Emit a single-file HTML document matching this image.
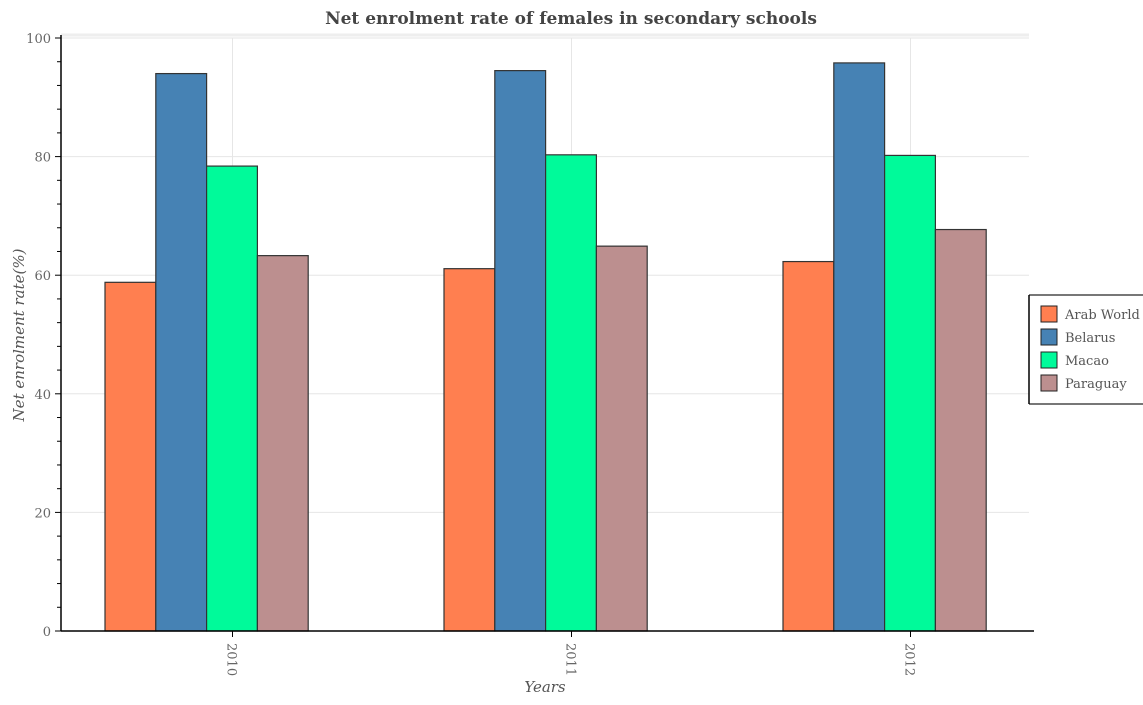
<!DOCTYPE html>
<html><head><meta charset="utf-8"><style>
body{margin:0;background:#fff}
svg{font-family:"DejaVu Serif","Liberation Serif",serif}
</style></head><body>
<svg width="1143" height="700">
<g id="grid"></g><g id="bars"></g><g id="axes"></g>
<text x="571" y="24" text-anchor="middle" font-size="17" font-weight="bold" fill="#444">Net enrolment rate of females in secondary schools</text>
<text transform="translate(24,335) rotate(-90)" text-anchor="middle" font-size="15" font-style="italic" fill="#555">Net enrolment rate(%)</text>
<text x="545" y="692" text-anchor="middle" font-size="15" font-style="italic" fill="#555">Years</text>
<g id="legend"></g>
</svg>
<script>
const years=["2010","2011","2012"];
const seriesNames=["Arab World","Belarus","Macao","Paraguay"];
const arabWorld=[58.8,61.1,62.3];
const belarus=[94.0,94.5,95.8];
const macao=[78.4,80.3,80.2];
const paraguay=[63.3,64.9,67.7];
const yTicks=[0,20,40,60,80,100];
const colors=["#ff7f50","#4682b4","#00fa9a","#bc8f8f"];
const series=[arabWorld,belarus,macao,paraguay];
const NS="http://www.w3.org/2000/svg";
const L=61,R=1029,T=38,B=631;
const y=v=>B-(v/100)*(B-T);
const xc=i=>232.5+i*339;
function mk(tag,attrs,parent){const e=document.createElementNS(NS,tag);for(const k in attrs)e.setAttribute(k,attrs[k]);parent.appendChild(e);return e;}
const grid=document.getElementById('grid'),bars=document.getElementById('bars'),axes=document.getElementById('axes'),leg=document.getElementById('legend');
mk('line',{x1:L,x2:R,y1:T-3,y2:T-3,stroke:'#eee','stroke-width':3},grid);
yTicks.forEach(t=>{const g=mk('line',{x1:L,x2:R,y1:y(t),y2:y(t),stroke:'#e6e6e6'},grid);


mk('line',{x1:L-6,x2:L,y1:y(t),y2:y(t),stroke:'#000'},axes);
const tx=mk('text',{x:L-10,y:y(t)+5,'text-anchor':'end','font-size':13,fill:'#666'},axes);tx.textContent=t;

});
for(let v=0;v<=100;v+=4){if(v%20)mk('line',{x1:L-4,x2:L,y1:y(v),y2:y(v),stroke:'#000'},axes);}
years.forEach((yr,i)=>{mk('line',{x1:xc(i),x2:xc(i),y1:T,y2:B,stroke:'#e6e6e6'},grid);
mk('line',{x1:xc(i),x2:xc(i),y1:B,y2:B+6,stroke:'#000'},axes);
const tx=mk('text',{transform:`translate(${xc(i)-5},${B+12}) rotate(90)`,'font-size':13,fill:'#666'},axes);tx.textContent=yr;


series.forEach((s,j)=>{const bx=xc(i)-127.5+j*50.8;
const r=mk('rect',{x:bx,y:y(s[i]),width:50.8,height:B-y(s[i]),fill:colors[j],stroke:'#333','stroke-width':1.2},bars);

});});
mk('line',{x1:L,x2:L,y1:T-3,y2:B,stroke:'#000','stroke-width':1.5},axes);
mk('line',{x1:L,x2:R+5,y1:B,y2:B,stroke:'#000','stroke-width':1.5},axes);
mk('rect',{x:1029,y:295,width:120,height:109,fill:'#fff',stroke:'none'},leg);
mk('line',{x1:1029,x2:1143,y1:295,y2:295,stroke:'#777','stroke-width':2},leg);
mk('line',{x1:1029,x2:1143,y1:404,y2:404,stroke:'#777','stroke-width':2},leg);
mk('line',{x1:1029,x2:1029,y1:295,y2:404,stroke:'#000','stroke-width':1.5},leg);
seriesNames.forEach((n,j)=>{const cy=314+j*23;
const r=mk('rect',{x:1041,y:cy-8,width:16,height:16,fill:colors[j],stroke:'#222'},leg);


const t=mk('text',{x:1065,y:cy+5,'font-size':13,fill:'#555'},leg);t.textContent=n;

});
</script>
</body></html>
